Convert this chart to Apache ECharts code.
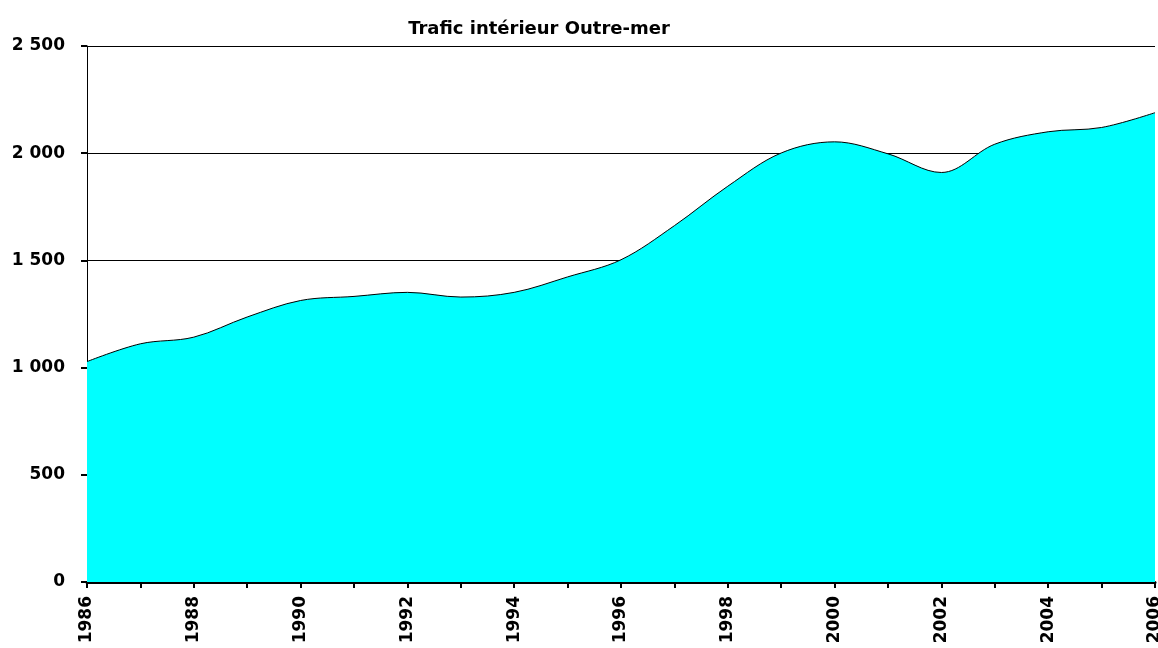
<!DOCTYPE html>
<html>
<head>
<meta charset="utf-8">
<script src="https://cdn.jsdelivr.net/npm/echarts@6/dist/echarts.min.js"></script>
<style>
  html, body { margin: 0; padding: 0; background: #ffffff; }
  #chart { width: 1158px; height: 648px; }
</style>
</head>
<body>
<div id="chart"></div>
<script>
// Trafic intérieur Outre-mer, 1986-2006
const years = ['1986', '1987', '1988', '1989', '1990', '1991', '1992', '1993', '1994', '1995',
               '1996', '1997', '1998', '1999', '2000', '2001', '2002', '2003', '2004', '2005', '2006'];
const trafic = [1028, 1111, 1142, 1236, 1313, 1332, 1351, 1329, 1351, 1423,
                1503, 1662, 1846, 2001, 2053, 1997, 1910, 2042, 2100, 2120, 2189];
const titleText = 'Trafic intérieur Outre-mer';

const FONT = 'DejaVu Sans';

// thousands separated by a space, French style
function fmt(v) {
  const s = String(v);
  return s.length > 3 ? s.slice(0, s.length - 3) + ' ' + s.slice(-3) : s;
}

const chart = echarts.init(document.getElementById('chart'), null, { renderer: 'canvas' });
chart.setOption({
  animation: false,
  backgroundColor: '#ffffff',
  title: {
    text: titleText,
    left: 534,
    top: 15,
    textAlign: 'center',
    textStyle: { fontFamily: FONT, fontWeight: 'bold', fontSize: 18, color: '#000' }
  },
  grid: { left: 87, right: 3, top: 46, bottom: 66, containLabel: false, outerBoundsMode: 'none' },
  xAxis: {
    type: 'category',
    data: years,
    boundaryGap: false,
    axisLine: { show: true, lineStyle: { color: '#000', width: 3 } },
    axisTick: { show: true, interval: 0, length: 6, lineStyle: { color: '#000', width: 2 } },
    axisLabel: {
      interval: 1,
      rotate: 90,
      margin: 14,
      fontFamily: FONT,
      fontWeight: 'bold',
      fontSize: 17,
      color: '#000'
    },
    splitLine: { show: false }
  },
  yAxis: {
    type: 'value',
    min: 0,
    max: 2500,
    interval: 500,
    axisLine: { show: true, lineStyle: { color: '#000', width: 1 } },
    axisTick: { show: true, length: 6, lineStyle: { color: '#000', width: 2 } },
    axisLabel: {
      margin: 22,
      formatter: fmt,
      fontFamily: FONT,
      fontWeight: 'bold',
      fontSize: 17,
      color: '#000'
    },
    splitLine: { show: true, lineStyle: { color: '#000', width: 1 } }
  },
  series: [{
    type: 'line',
    data: trafic,
    smooth: 0.35,
    symbol: 'none',
    lineStyle: { color: '#000', width: 1 },
    areaStyle: { color: '#00ffff', opacity: 1 }
  }]
});
</script>
</body>
</html>
